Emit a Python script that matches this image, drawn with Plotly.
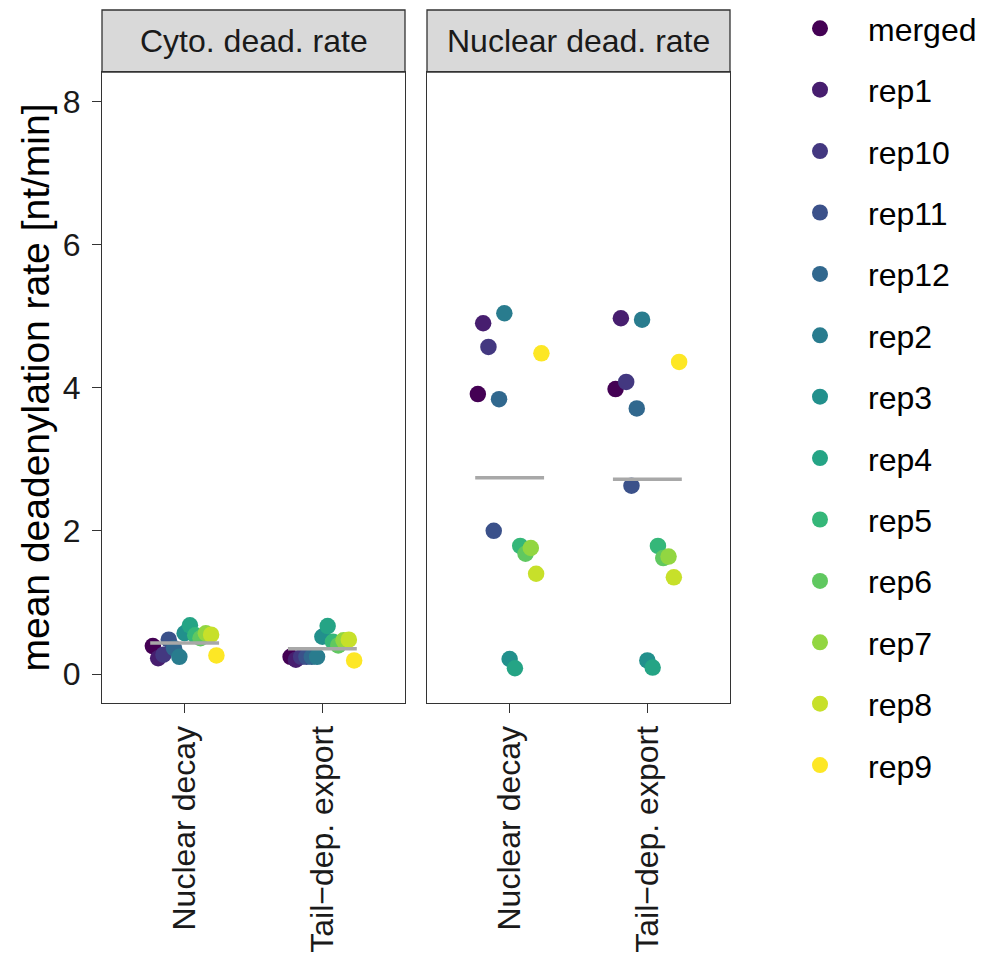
import plotly.graph_objects as go
from plotly.colors import sample_colorscale

replicates = ["merged", "rep1", "rep10", "rep11", "rep12", "rep2", "rep3",
              "rep4", "rep5", "rep6", "rep7", "rep8", "rep9"]
categories = ["Nuclear decay", "Tail\u2212dep. export"]
panels = ["Cyto. dead. rate", "Nuclear dead. rate"]
y_ticks = [0, 2, 4, 6, 8]

cyto_nuclear_decay = [0.39, 0.22, 0.27, 0.48, 0.36, 0.24, 0.57, 0.68, 0.54, 0.50, 0.57, 0.55, 0.26]
cyto_tail_export = [0.24, 0.20, 0.24, 0.24, 0.24, 0.24, 0.52, 0.67, 0.45, 0.40, 0.47, 0.48, 0.19]
nuc_nuclear_decay = [3.91, 4.90, 4.57, 2.00, 3.84, 5.04, 0.21, 0.08, 1.79, 1.68, 1.76, 1.40, 4.48]
nuc_tail_export = [3.98, 4.97, 4.08, 2.63, 3.71, 4.95, 0.19, 0.09, 1.79, 1.62, 1.64, 1.35, 4.36]

panel_data = [
    [cyto_nuclear_decay, cyto_tail_export],
    [nuc_nuclear_decay, nuc_tail_export],
]

W, H = 986, 955
OFF = 8  # page body margin
n = len(replicates)
colors = sample_colorscale("Viridis", [i / (n - 1) for i in range(n)])
dodge_width = 0.5
offsets = [-dodge_width / 2 + (i + 0.5) * dodge_width / n for i in range(n)]

fig = go.Figure()

for p, series in enumerate(panel_data):
    xa = "x" if p == 0 else "x2"
    ya = "y" if p == 0 else "y2"
    for i, rep in enumerate(replicates):
        xs = [c + offsets[i] for c in range(len(categories))]
        ys = [series[c][i] for c in range(len(categories))]
        fig.add_trace(go.Scatter(
            x=xs, y=ys, mode="markers", name=rep, legendgroup=rep,
            showlegend=(p == 0), xaxis=xa, yaxis=ya,
            marker=dict(color=colors[i], size=16.5, line=dict(width=0)),
        ))
    for c in range(len(categories)):
        m = sum(series[c]) / len(series[c])
        fig.add_trace(go.Scatter(
            x=[c - dodge_width / 2, c + dodge_width / 2], y=[m, m], mode="lines",
            line=dict(color="#A8A8A8", width=3.5), showlegend=False,
            hoverinfo="skip", xaxis=xa, yaxis=ya,
        ))

font = "Liberation Sans, Arial, sans-serif"


def fx(px):
    return (px - OFF) / W


def fy(px):
    return 1 - (px - OFF) / H


px_l = [102, 427]
px_r = [405, 730]
top_plot, bottom_plot = 72, 703
strip_top = 10

ydom = [fy(bottom_plot), fy(top_plot)]
common_x = dict(
    range=[-0.6, 1.6], tickvals=list(range(len(categories))), ticktext=categories,
    tickangle=-90, showgrid=False, zeroline=False, showline=True, mirror=True,
    linecolor="#333333", linewidth=1.3, ticks="outside", ticklen=9, tickwidth=1.3,
    tickcolor="#333333", tickfont=dict(size=32, color="#1A1A1A", family=font),
)
common_y = dict(
    range=[-0.405, 8.41], domain=ydom, showgrid=False, zeroline=False,
    showline=True, mirror=True, linecolor="#333333", linewidth=1.3,
)
fig.update_layout(
    xaxis=dict(domain=[fx(px_l[0]), fx(px_r[0])], anchor="y", **common_x),
    xaxis2=dict(domain=[fx(px_l[1]), fx(px_r[1])], anchor="y2", **common_x),
    yaxis=dict(anchor="x", tickvals=y_ticks, ticks="outside", ticklen=9,
               tickwidth=1.3, tickcolor="#333333", ticklabelstandoff=5,
               tickfont=dict(size=32, color="#1A1A1A", family=font), **common_y),
    yaxis2=dict(anchor="x2", matches="y", showticklabels=False, ticks="", **common_y),
)

shapes = []
annotations = []
for p in range(2):
    shapes.append(dict(
        type="rect", xref="paper", yref="paper",
        x0=fx(px_l[p]), x1=fx(px_r[p]), y0=fy(top_plot), y1=fy(strip_top),
        fillcolor="#D9D9D9", line=dict(color="#333333", width=1.3), layer="below",
    ))
    annotations.append(dict(
        text=panels[p], xref="paper", yref="paper",
        x=fx((px_l[p] + px_r[p]) / 2), y=fy((top_plot + strip_top) / 2),
        showarrow=False, xanchor="center", yanchor="middle",
        font=dict(size=32, color="#1A1A1A", family=font),
    ))
annotations.append(dict(
    text="mean deadenylation rate [nt/min]", xref="paper", yref="paper",
    x=fx(35), y=fy((top_plot + bottom_plot) / 2), textangle=-90,
    showarrow=False, xanchor="center", yanchor="middle",
    font=dict(size=39, color="#000000", family=font),
))

fig.update_layout(
    width=W, height=H, margin=dict(l=0, r=0, t=0, b=0, autoexpand=False),
    paper_bgcolor="white", plot_bgcolor="white",
    shapes=shapes, annotations=annotations,
    font=dict(family=font),
    legend=dict(
        x=fx(772), y=fy(1), xanchor="left", yanchor="top",
        font=dict(size=32, color="#000000", family=font),
        tracegroupgap=16.8, itemsizing="trace", itemwidth=86,
        bgcolor="rgba(0,0,0,0)", maxheight=1000,
    ),
)

fig.write_html("out.html")
